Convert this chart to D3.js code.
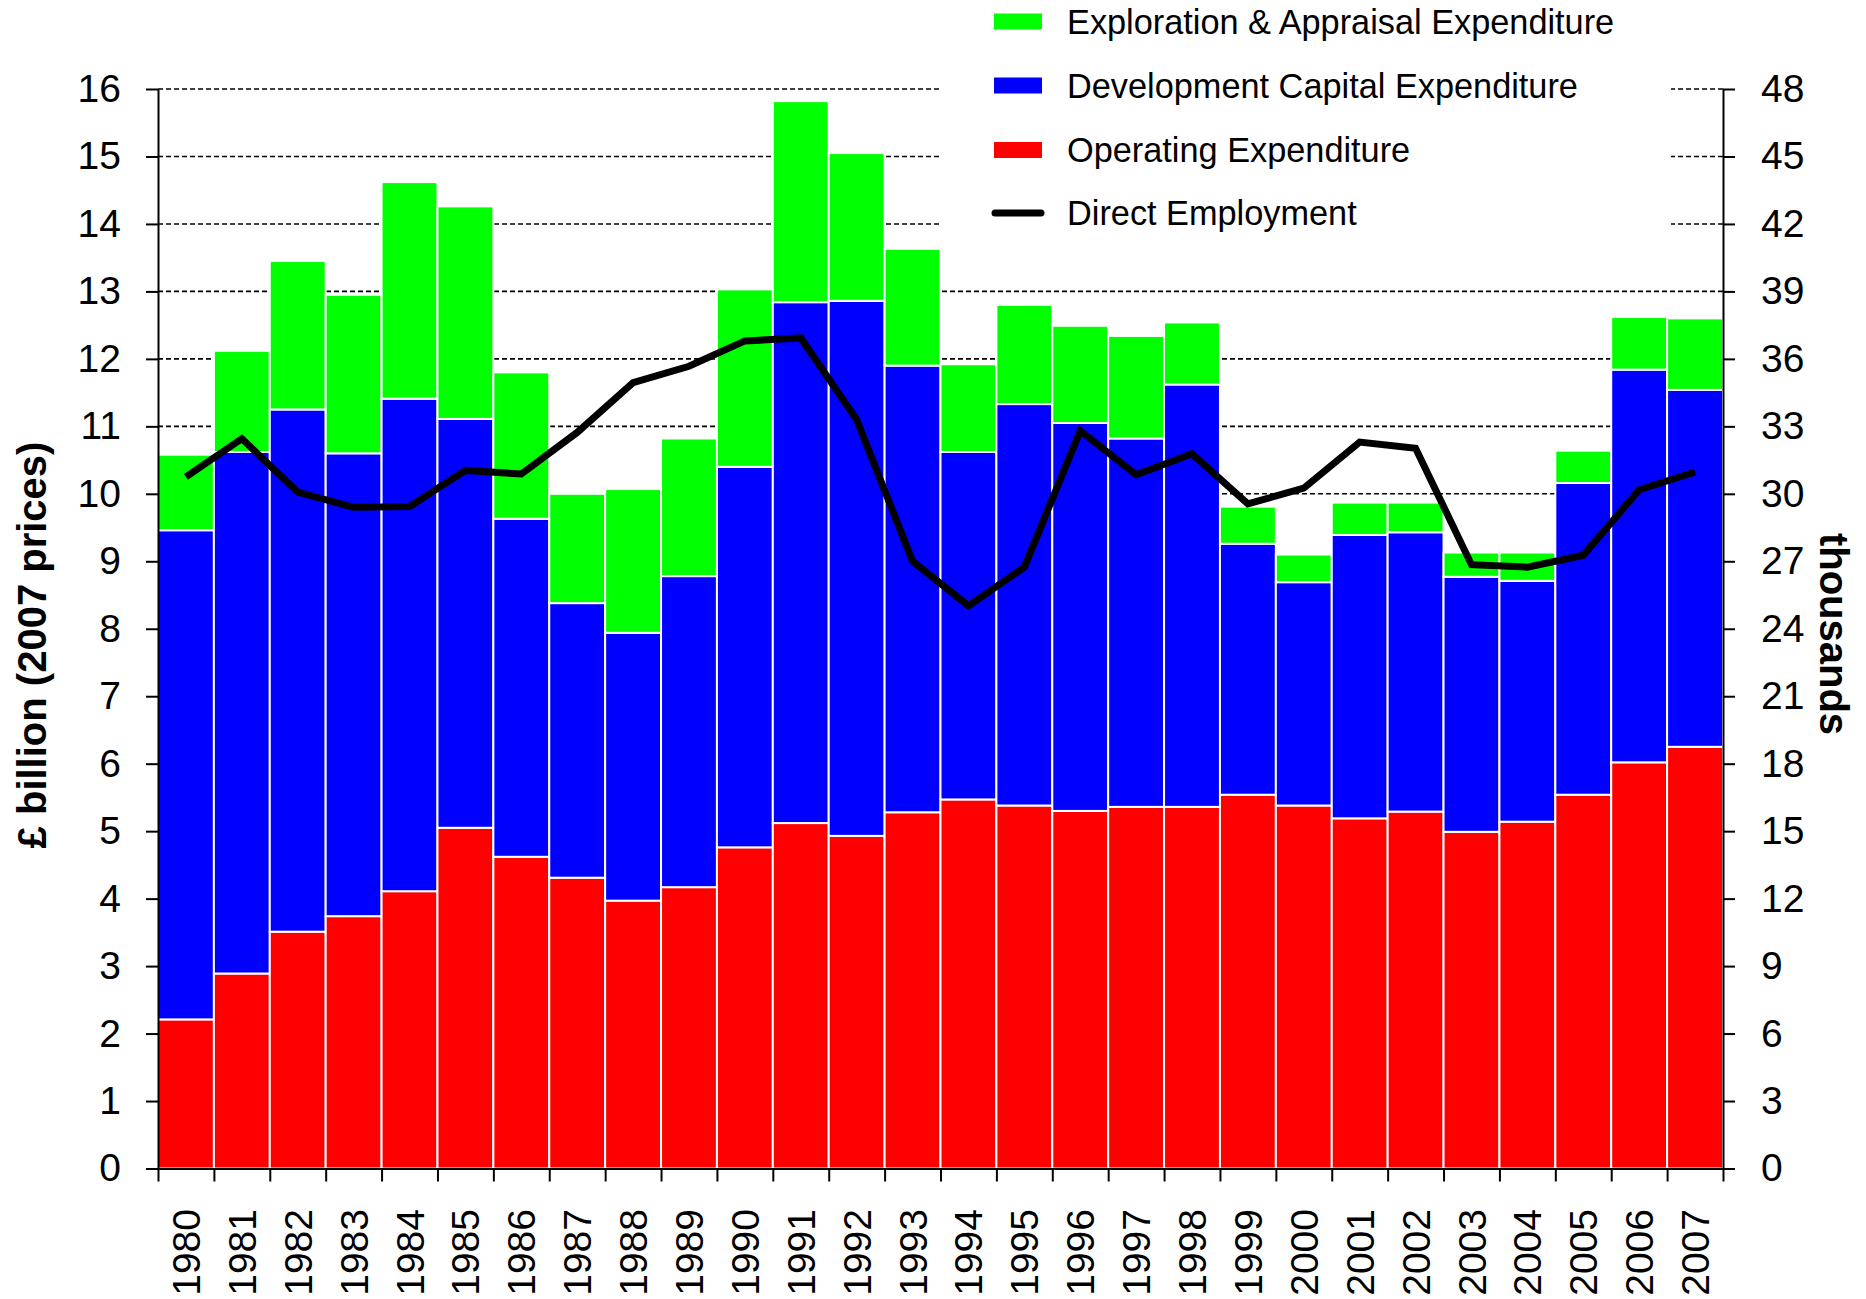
<!DOCTYPE html>
<html>
<head>
<meta charset="utf-8">
<script src="https://cdn.jsdelivr.net/npm/d3@7"></script>
<style>
  body { margin: 0; background: #fff; }
  text { font-family: "Liberation Sans", Arial, sans-serif; fill: #000; }
</style>
</head>
<body>
<div id="wrapper"></div>
<script>
const years = ["1980","1981","1982","1983","1984","1985","1986","1987","1988","1989",
  "1990","1991","1992","1993","1994","1995","1996","1997","1998","1999",
  "2000","2001","2002","2003","2004","2005","2006","2007"]

// £ billion, read as the top of each stacked segment
const operating = [2.21,2.89,3.51,3.74,4.11,5.05,4.62,4.31,3.97,4.17,
  4.76,5.12,4.93,5.28,5.47,5.38,5.30,5.36,5.36,5.54,
  5.38,5.19,5.29,4.99,5.14,5.54,6.02,6.25]
const developmentTop = [9.46,10.62,11.25,10.60,11.41,11.11,9.63,8.38,7.94,8.78,
  10.40,12.84,12.86,11.90,10.62,11.33,11.05,10.82,11.62,9.26,
  8.69,9.39,9.43,8.77,8.71,10.16,11.84,11.54]
const explorationTop = [10.58,12.12,13.45,12.95,14.62,14.26,11.80,10.00,10.07,10.82,
  13.03,15.82,15.05,13.63,11.92,12.80,12.49,12.34,12.54,9.81,
  9.10,9.87,9.87,9.13,9.13,10.64,12.62,12.60]

// thousands
const employment = [30.75,32.45,30.08,29.40,29.43,31.04,30.88,32.73,34.94,35.67,
  36.80,36.93,33.30,27.00,25.02,26.74,32.80,30.85,31.78,29.55,
  30.25,32.30,32.03,26.85,26.74,27.27,30.18,30.97]

const seriesNames = ["Exploration & Appraisal Expenditure", "Development Capital Expenditure", "Operating Expenditure", "Direct Employment"]
const seriesColors = ["#00ff00", "#0000ff", "#ff0000", "#000000"]

const leftTicks = d3.range(0, 17)
const rightTicks = d3.range(0, 49, 3)

const dimensions = {
  width: 1866,
  height: 1299,
  margin: { top: 89, right: 143, bottom: 130.5, left: 158 }
}
const plotRight = dimensions.width - dimensions.margin.right
const plotBottom = dimensions.height - dimensions.margin.bottom

const svg = d3.select("#wrapper")
  .append("svg")
    .attr("width", dimensions.width)
    .attr("height", dimensions.height)

const x = d3.scaleBand()
  .domain(years)
  .range([dimensions.margin.left, plotRight])
  .padding(0)

const y = d3.scaleLinear()
  .domain([0, 16])
  .range([plotBottom, dimensions.margin.top])

const y2 = d3.scaleLinear()
  .domain([0, 48])
  .range([plotBottom, dimensions.margin.top])

// dashed gridlines
svg.append("g")
  .selectAll("line")
  .data(leftTicks.filter(d => d > 0))
  .enter().append("line")
    .attr("x1", dimensions.margin.left)
    .attr("x2", plotRight)
    .attr("y1", d => y(d))
    .attr("y2", d => y(d))
    .attr("stroke", "#000")
    .attr("stroke-width", 1.6)
    .attr("stroke-dasharray", "5,3")

// legend background hides gridlines behind it
svg.append("rect")
  .attr("x", 940)
  .attr("y", 0)
  .attr("width", 731)
  .attr("height", 238)
  .attr("fill", "#fff")

// stacked bars
const stacks = years.map((yr, i) => [
  { year: yr, y0: 0, y1: operating[i], color: seriesColors[2] },
  { year: yr, y0: operating[i], y1: developmentTop[i], color: seriesColors[1] },
  { year: yr, y0: developmentTop[i], y1: explorationTop[i], color: seriesColors[0] }
]).flat()

svg.append("g")
  .selectAll("rect")
  .data(stacks)
  .enter().append("rect")
    .attr("x", d => x(d.year))
    .attr("width", x.bandwidth())
    .attr("y", d => y(d.y1))
    .attr("height", d => y(d.y0) - y(d.y1))
    .attr("fill", d => d.color)
    .attr("stroke", "#fff")
    .attr("stroke-width", 2)

// employment line
const line = d3.line()
  .x((d, i) => x(years[i]) + x.bandwidth() / 2)
  .y(d => y2(d))

svg.append("path")
  .datum(employment)
  .attr("d", line)
  .attr("fill", "none")
  .attr("stroke", "#000")
  .attr("stroke-width", 7)
  .attr("stroke-linejoin", "miter")

// axes
const leftAxis = d3.axisLeft(y)
  .tickValues(leftTicks)
  .tickSize(12)
  .tickSizeOuter(0)
  .tickPadding(25)

svg.append("g")
  .attr("transform", `translate(${dimensions.margin.left},0)`)
  .call(leftAxis)
  .call(g => g.selectAll("text").style("font-size", "39px").style("font-family", "Liberation Sans, Arial, sans-serif"))

const rightAxis = d3.axisRight(y2)
  .tickValues(rightTicks)
  .tickSize(12)
  .tickSizeOuter(0)
  .tickPadding(26)

svg.append("g")
  .attr("transform", `translate(${plotRight},0)`)
  .call(rightAxis)
  .call(g => g.selectAll("text").style("font-size", "39px").style("font-family", "Liberation Sans, Arial, sans-serif"))

const xEdges = d3.scaleLinear()
  .domain([0, years.length])
  .range([dimensions.margin.left, plotRight])

svg.append("g")
  .attr("transform", `translate(0,${plotBottom})`)
  .call(d3.axisBottom(xEdges).tickValues(d3.range(0, years.length + 1)).tickFormat("").tickSize(13).tickSizeOuter(0))

svg.selectAll("path.domain, .tick line")
  .attr("stroke", "#000")
  .attr("stroke-width", 2)

// year labels
svg.append("g")
  .selectAll("text")
  .data(years)
  .enter().append("text")
    .attr("transform", d => `translate(${x(d) + x.bandwidth() / 2},1209) rotate(-90)`)
    .attr("text-anchor", "end")
    .attr("dy", "0.36em")
    .style("font-size", "39px")
    .text(d => d)

// axis titles
svg.append("text")
  .attr("transform", "translate(46,645) rotate(-90)")
  .attr("text-anchor", "middle")
  .style("font-size", "40px")
  .style("font-weight", "bold")
  .text("£ billion (2007 prices)")

svg.append("text")
  .attr("transform", "translate(1820,634) rotate(90)")
  .attr("text-anchor", "middle")
  .style("font-size", "40px")
  .style("font-weight", "bold")
  .text("thousands")

// legend
const legendRows = [21.5, 85.5, 150, 213]
const legend = svg.append("g")

seriesNames.forEach((name, i) => {
  const cy = legendRows[i]
  if (i < 3) {
    legend.append("rect")
      .attr("x", 994)
      .attr("y", cy - 8)
      .attr("width", 48)
      .attr("height", 16)
      .attr("fill", seriesColors[i])
  } else {
    legend.append("line")
      .attr("x1", 995)
      .attr("x2", 1041)
      .attr("y1", cy)
      .attr("y2", cy)
      .attr("stroke", seriesColors[i])
      .attr("stroke-width", 7)
      .attr("stroke-linecap", "round")
  }
  legend.append("text")
    .attr("x", 1067)
    .attr("y", cy + 12)
    .style("font-size", "34.3px")
    .text(name)
})
</script>
</body>
</html>
